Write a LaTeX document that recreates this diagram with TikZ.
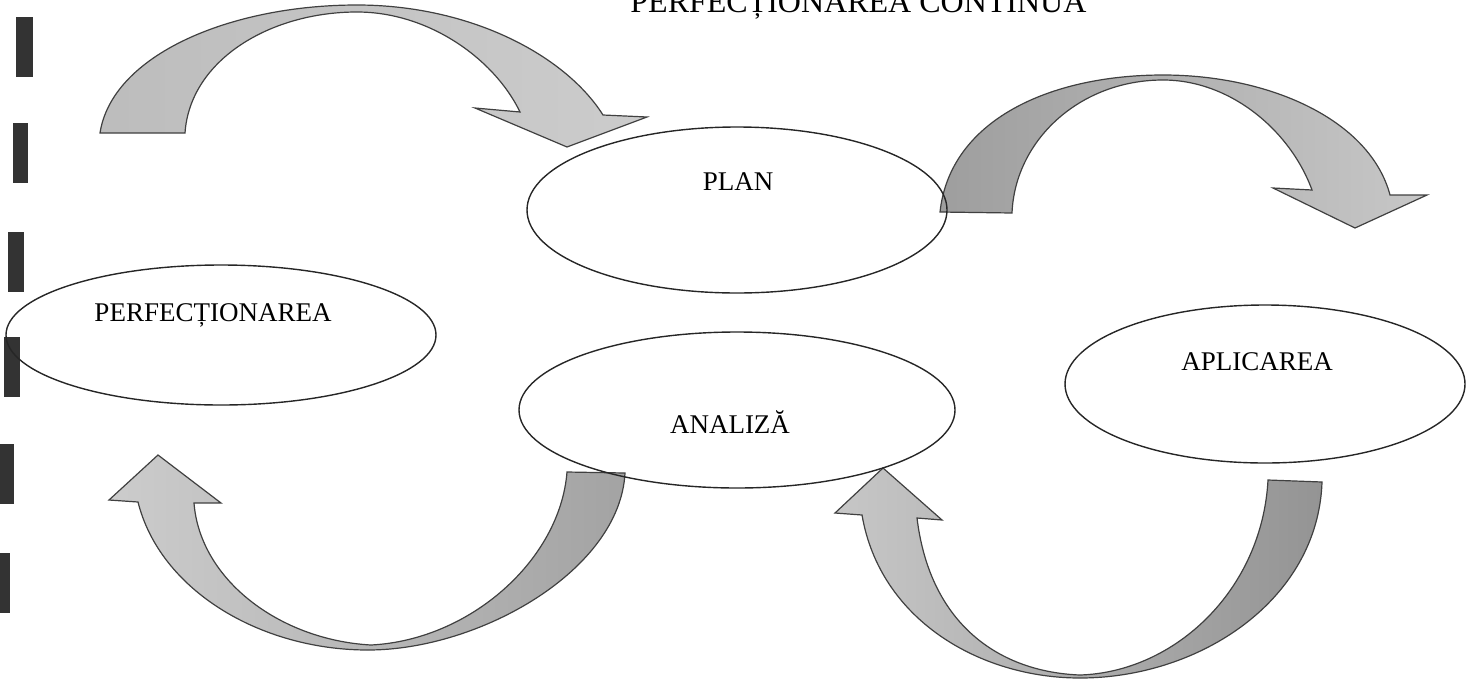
\documentclass[tikz,border=0pt]{standalone}
\usepackage{fontspec}
\setmainfont{Liberation Serif}
\usetikzlibrary{shapes.geometric}
\begin{document}
\begin{tikzpicture}[x=0.5pt,y=-0.5pt,
	oval/.style={draw=black!85,line width=0.7pt,ellipse,inner sep=0pt},
	word/.style={font=\fontsize{13.5}{16}\selectfont},
	bigarrow/.style={draw=black!75,line width=0.6pt,line join=miter}]
	\useasboundingbox (0,0) rectangle (1470,686);
	% marks on the left edge
	\foreach\xa/\ya/\w in{16/17/17,13/123/15,8/232/16,4/337/16,0/444/14,0/553/10}{\fill[black!80] (\xa,\ya) rectangle ++(\w,60);}
	\node[anchor=base west,font=\fontsize{16}{19}\selectfont,inner sep=0pt] (title) at (630,12) {PERFECȚIONAREA CONTINUĂ};
	% arrows
	\draw[bigarrow,left color=black!26,right color=black!20] (100,133) .. controls (112,55) and (230,5) .. (357,5) .. controls (470,5) and (565,55) .. (603,115) -- (647,117) -- (567,147) -- (475,108) -- (520,112) .. controls (495,60) and (430,12) .. (357,12) .. controls (270,12) and (190,60) .. (185,133) -- cycle;
	\draw[bigarrow,left color=black!38,right color=black!22] (940,212) .. controls (950,120) and (1050,75) .. (1163,75) .. controls (1270,75) and (1370,120) .. (1390,195) -- (1427,195) -- (1355,228) -- (1273,188) -- (1312,190) .. controls (1290,130) and (1230,80) .. (1163,80) .. controls (1080,80) and (1015,140) .. (1012,213) -- cycle;
	\draw[bigarrow,left color=black!20,right color=black!36] (138,502) .. controls (160,590) and (260,650) .. (368,650) .. controls (480,650) and (620,570) .. (625,473) -- (567,472) .. controls (560,560) and (470,640) .. (371,645) .. controls (280,640) and (200,580) .. (194,503) -- (221,503) -- (158,455) -- (109,500) -- cycle;
	\draw[bigarrow,left color=black!22,right color=black!42] (862,515) .. controls (880,620) and (980,678) .. (1080,678) .. controls (1200,678) and (1318,600) .. (1322,482) -- (1268,480) .. controls (1262,590) and (1175,672) .. (1080,675) .. controls (1000,672) and (930,625) .. (917,518) -- (942,520) -- (883,468) -- (835,513) -- cycle;
	% stages
	\node[oval,minimum width=210pt,minimum height=83pt] (plan) at (737,210) {};
	\node[word] (plan-t) at (738,182) {PLAN};
	\node[oval,minimum width=215pt,minimum height=70pt] (perf) at (221,335) {};
	\node[word] (perf-t) at (213,315) {PERFECȚIONAREA};
	\node[oval,minimum width=200pt,minimum height=79pt] (aplic) at (1265,384) {};
	\node[word] (aplic-t) at (1257,362) {APLICAREA};
	\node[oval,minimum width=218pt,minimum height=78pt] (anal) at (737,410) {};
	\node[word] (anal-t) at (730,422) {ANALIZĂ};
\end{tikzpicture}
\end{document}
